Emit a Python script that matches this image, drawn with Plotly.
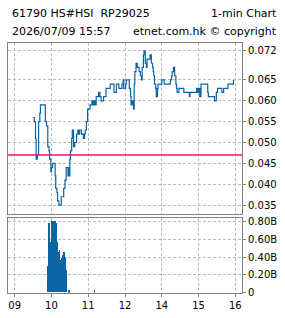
import plotly.graph_objects as go

# ---- data ----
price_times = ["09:30","09:32","09:34","09:35","09:37","09:39","09:41","09:42","09:50","09:52",
               "09:54","09:56","09:57","09:59","10:00","10:02","10:06","10:07","10:09","10:10",
               "10:12","10:16","10:20","10:22","10:24","10:27","10:28","10:29","10:30","10:31",
               "10:33","10:34","10:36","10:38","10:41","10:43","10:44","10:46","10:49","10:52",
               "10:54","10:55","10:57","10:59","11:03","11:06","11:08","11:10","11:11","11:13",
               "11:17","11:19","11:21","11:25","11:29","11:36","11:42","11:46","11:50","11:55",
               "11:57","11:58","13:01","13:02","13:07","13:09","13:10","13:12","13:13","13:14",
               "13:15","13:16","13:18","13:20","13:23","13:25","13:27","13:28","13:30","13:31",
               "13:33","13:35","13:36","13:41","13:43","13:45","13:46","13:47","13:48","13:50",
               "13:51","13:53","13:54","14:00","14:04","14:14","14:16","14:17","14:19","14:21",
               "14:23","14:24","14:25","14:28","14:36","14:45","14:46","14:57","14:59","15:01",
               "15:02","15:04","15:15","15:16","15:26","15:29","15:31","15:38","15:41","15:48",
               "15:57"]
price_vals = [0.056,0.055,0.051,0.046,0.047,0.055,0.057,0.059,0.055,0.054,
              0.049,0.048,0.046,0.043,0.044,0.045,0.042,0.039,0.038,0.036,
              0.035,0.037,0.039,0.041,0.044,0.042,0.044,0.042,0.046,0.048,
              0.051,0.053,0.049,0.050,0.052,0.053,0.052,0.053,0.052,0.051,
              0.052,0.053,0.055,0.058,0.059,0.060,0.059,0.060,0.059,0.061,
              0.062,0.061,0.060,0.061,0.063,0.064,0.062,0.064,0.063,0.064,
              0.065,0.063,0.064,0.065,0.063,0.061,0.059,0.060,0.059,0.058,
              0.064,0.067,0.069,0.068,0.067,0.066,0.065,0.068,0.071,0.072,
              0.069,0.068,0.070,0.071,0.069,0.068,0.067,0.066,0.064,0.063,
              0.061,0.063,0.064,0.065,0.064,0.065,0.066,0.067,0.068,0.066,
              0.064,0.063,0.062,0.063,0.062,0.061,0.062,0.063,0.062,0.063,
              0.061,0.064,0.062,0.061,0.060,0.062,0.063,0.062,0.063,0.064,
              0.065]
prev_close = 0.047

vol_times = ["09:54","09:55","09:56","09:57","09:58","09:59","10:00","10:01","10:02","10:03",
             "10:04","10:05","10:06","10:07","10:08","10:09","10:10","10:11","10:12","10:13",
             "10:14","10:15","10:16","10:17","10:18","10:19","10:20","10:21","10:22","10:23",
             "10:24","10:28","10:29","11:10"]
vol_b = [0.30,0.30,0.78,0.78,0.56,0.56,0.80,0.80,0.80,0.80,
         0.79,0.80,0.80,0.78,0.55,0.56,0.25,0.26,0.45,0.47,
         0.03,0.36,0.35,0.38,0.40,0.42,0.45,0.43,0.40,0.25,
         0.25,0.02,0.02,0.02]

x_tick_times = ["09:00","10:00","11:00","12:00","14:00","15:00","16:00"]
x_tick_text = ["09","10","11","12","14","15","16"]
price_ticks = [0.035,0.040,0.045,0.050,0.055,0.060,0.065,0.072]
price_tick_text = ["0.035","0.040","0.045","0.050","0.055","0.060","0.065","0.072"]
vol_ticks = [0,0.2,0.4,0.6,0.8]
vol_tick_text = ["0","0.20B","0.40B","0.60B","0.80B"]


def tmin(s):
    """Trading minutes after 09:00, lunch break (12:00-13:00) removed."""
    h, m = map(int, s.split(":"))
    t = h * 60 + m
    if t >= 13 * 60:
        t -= 60
    return t - 9 * 60


BLUE = "#0b64a3"
PINK = "#ff0a78"
GRID = "#bcbcbc"
FRAME = "#808080"
FONT = dict(family="DejaVu Sans", size=10, color="#000000")

fig = go.Figure()
fig.add_trace(go.Scatter(x=[tmin(t) for t in price_times], y=price_vals, mode="lines",
                         line=dict(color=BLUE, width=1.2, shape="hv"),
                         xaxis="x2", yaxis="y2", showlegend=False, hoverinfo="skip"))
fig.add_trace(go.Bar(x=[tmin(t) for t in vol_times], y=vol_b, width=1,
                     marker=dict(color=BLUE, line=dict(width=0)),
                     xaxis="x", yaxis="y", showlegend=False, hoverinfo="skip"))

fig.add_shape(type="line", xref="x2 domain", yref="y2", x0=0, x1=1,
              y0=prev_close, y1=prev_close, line=dict(color=PINK, width=1.3))

xr = [-10.9, 370.9]
common_x = dict(range=xr, tickvals=[tmin(t) for t in x_tick_times], ticktext=x_tick_text,
                showgrid=True, gridcolor=GRID, gridwidth=1, griddash="3px,2px",
                showline=True, mirror=True, linecolor=FRAME, linewidth=1,
                zeroline=False, tickfont=FONT)
common_y = dict(side="right", showgrid=True, gridcolor=GRID, gridwidth=1, griddash="3px,2px",
                showline=True, mirror=True, linecolor=FRAME, linewidth=1,
                zeroline=False, ticks="outside", ticklen=3, tickcolor=FRAME, tickfont=FONT)

fig.update_layout(
    width=285, height=318, margin=dict(l=0, r=0, t=0, b=0),
    paper_bgcolor="white", plot_bgcolor="white", bargap=0,
    xaxis=dict(domain=[8/285, 242/285], anchor="y", ticks="outside", ticklen=3,
               tickcolor=FRAME, **common_x),
    xaxis2=dict(domain=[8/285, 242/285], anchor="y2", matches="x",
                showticklabels=False, ticks="", **common_x),
    yaxis=dict(domain=[(318-298)/318, (318-222)/318], anchor="x", range=[0, 0.836],
               tickvals=vol_ticks, ticktext=vol_tick_text, **common_y),
    yaxis2=dict(domain=[(318-217)/318, (318-42)/318], anchor="x2", range=[0.03297, 0.07387],
                tickvals=price_ticks, ticktext=price_tick_text, **common_y),
)

TFONT = dict(family="DejaVu Sans", size=11, color="#000000")
for txt, x, y, anc in [("61790 HS#HSI  RP29025", 10/285, 1-12/318, "left"),
                       ("1-min Chart", 279/285, 1-12/318, "right"),
                       ("2026/07/09 15:57", 10/285, 1-30/318, "left"),
                       ("etnet.com.hk © copyright", 279/285, 1-30/318, "right")]:
    fig.add_annotation(text=txt, x=x, y=y, xref="paper", yref="paper", xanchor=anc,
                       yanchor="middle", showarrow=False, font=TFONT)

fig.write_html("out.html")
